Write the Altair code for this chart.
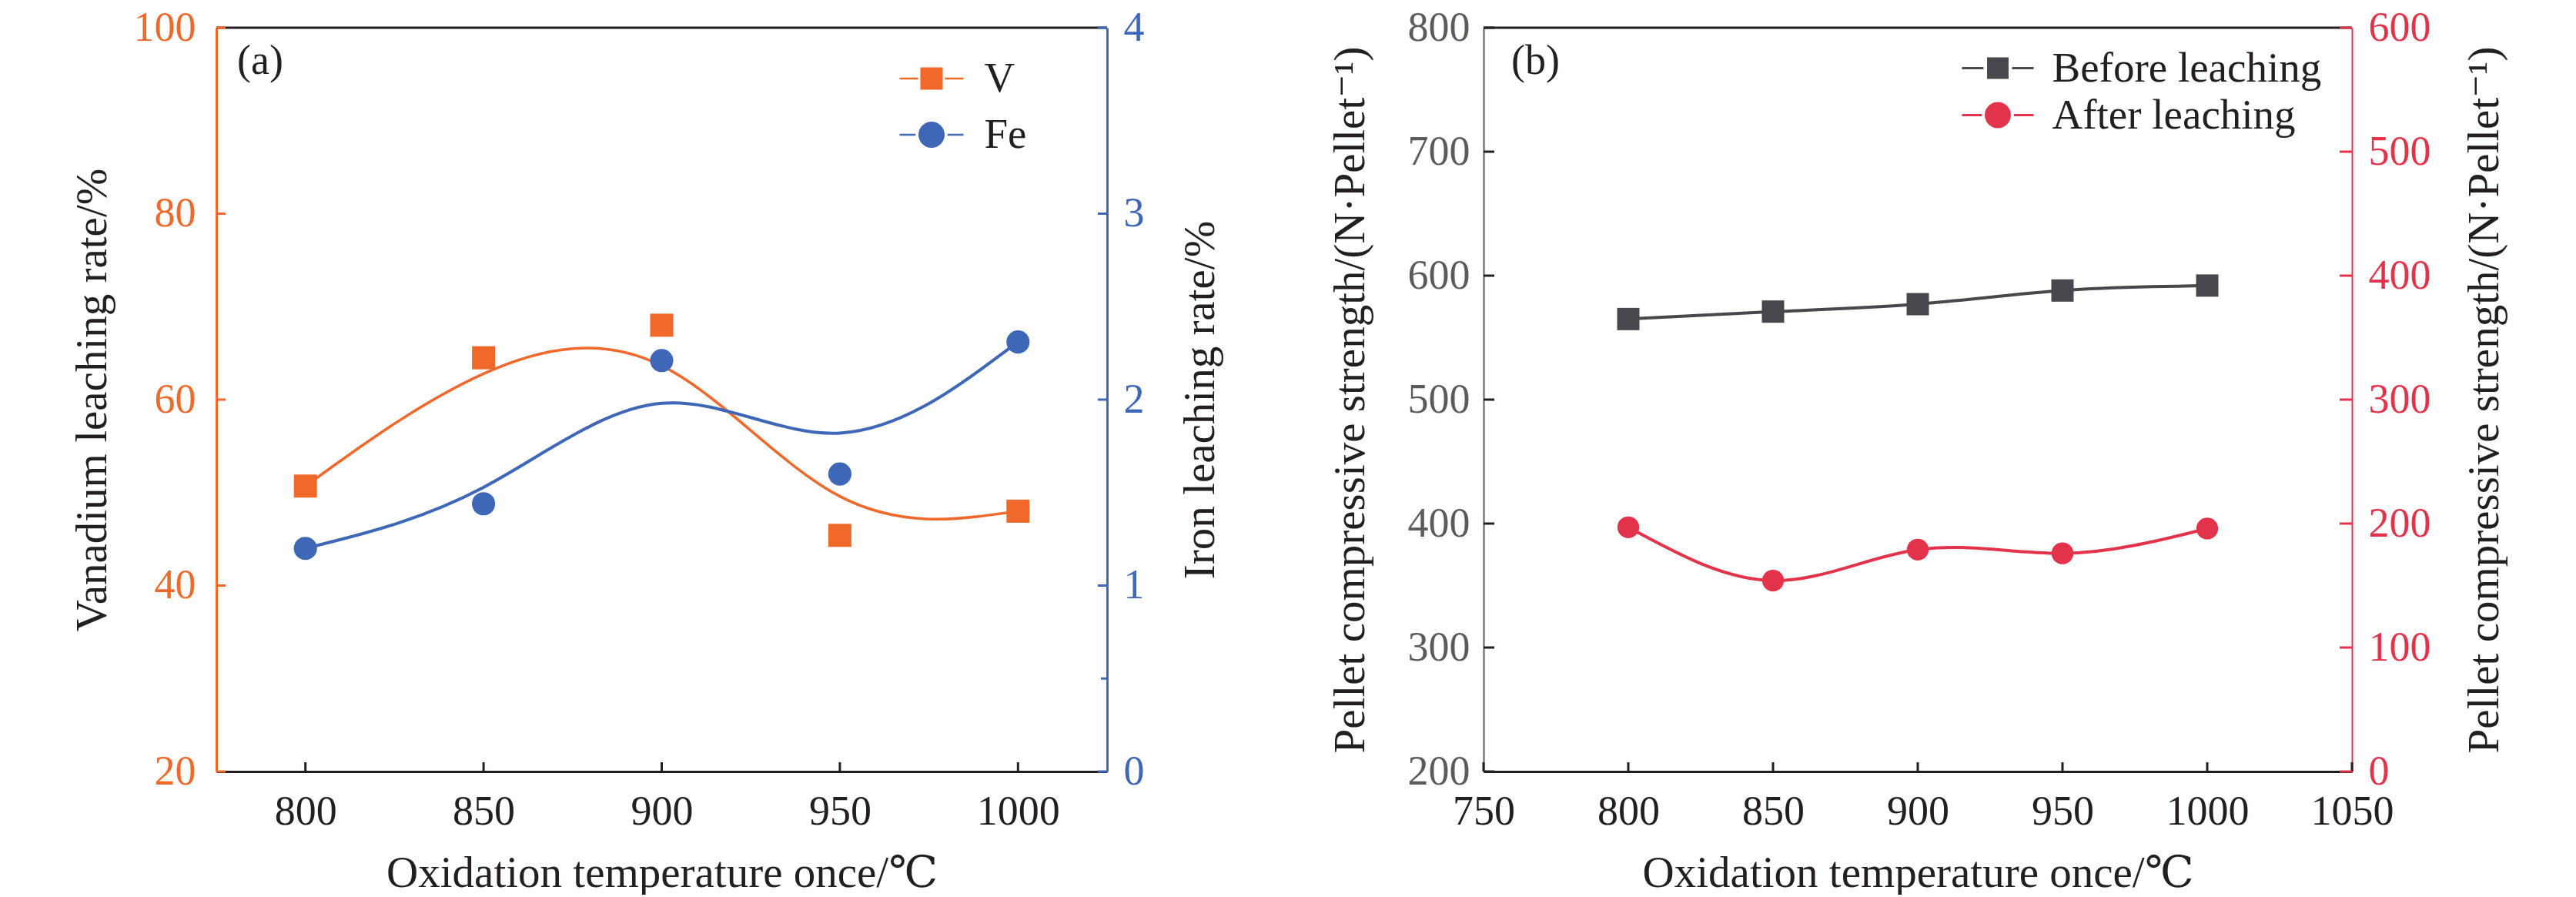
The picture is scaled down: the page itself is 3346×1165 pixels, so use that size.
import altair as alt
import pandas as pd

# ---------------- data ----------------
temps = [800, 850, 900, 950, 1000]
v_rate = [50.7, 64.5, 68.0, 45.4, 48.0]          # Vanadium leaching rate / %
fe_rate = [1.20, 1.44, 2.21, 1.60, 2.31]         # Iron leaching rate / %
before = [565, 571, 577, 588, 592]               # compressive strength before leaching
after = [197, 154, 179, 176, 196]                # compressive strength after leaching

xa_ticks = [800, 850, 900, 950, 1000]
xb_ticks = [750, 800, 850, 900, 950, 1000, 1050]
v_ticks = [20, 40, 60, 80, 100]
fe_ticks = [0, 1, 2, 3, 4]
fe_minor = [0.5]
before_ticks = [200, 300, 400, 500, 600, 700, 800]
after_ticks = [0, 100, 200, 300, 400, 500, 600]

series_a = ["V", "Fe"]
series_b = ["Before leaching", "After leaching"]

# ---------------- style ----------------
FONT = "Liberation Serif, DejaVu Serif"
ORANGE = "#F0692A"
BLUE = "#3F67B7"
RED = "#E3334A"
GRAY = "#47484D"
AXGRAY = "#5A5B5F"
TEXT = "#231F20"

WA, HA = 1157, 966
WB, HB = 1128, 966
TICK_FS = 54
TITLE_FS = 57

dfa = pd.DataFrame({"T": temps, "V": v_rate, "Fe": fe_rate})
dfb = pd.DataFrame({"T": temps, "before": before, "after": after})


def rule_df(vals):
    return pd.DataFrame({"t": vals})


one = pd.DataFrame({"k": [0]})


def legend_entry(name, color, path, size, lx, ly, offset):
    params = dict(orient="none", legendX=lx, legendY=ly, title=None, labelFont=FONT,
                  labelFontSize=55, labelColor=TEXT, symbolSize=size, symbolStrokeWidth=0,
                  labelOffset=offset, padding=0, symbolOpacity=1, labelLimit=800)
    return alt.Chart(pd.DataFrame({"s": [name]})).mark_point(filled=True, opacity=1).encode(
        x=alt.value(0), y=alt.value(0),
        color=alt.Color("s:N", scale=alt.Scale(domain=[name], range=[color]),
                        legend=alt.Legend(**params)),
        shape=alt.Shape("s:N", scale=alt.Scale(domain=[name], range=[path]),
                        legend=alt.Legend(**params)),
    ).transform_filter("false")


# ================= panel (a) =================
xa = alt.Scale(domain=[775, 1025], nice=False, zero=False)
va = alt.Scale(domain=[20, 100], nice=False, zero=False)
fa = alt.Scale(domain=[0, 4], nice=False, zero=False)

x_axis_a = alt.Axis(values=xa_ticks, title="Oxidation temperature once/℃", ticks=False, tickSize=0,
                    domainColor=TEXT, domainWidth=3, labelColor=TEXT, labelFontSize=TICK_FS,
                    labelPadding=25, titleFontSize=TITLE_FS, titlePadding=25, titleColor=TEXT,
                    labelFlush=False, format="d")

v_line = alt.Chart(dfa).mark_line(interpolate="basis", color=ORANGE, strokeWidth=3.5).encode(
    x=alt.X("T:Q", scale=xa, axis=x_axis_a),
    y=alt.Y("V:Q", scale=va, axis=alt.Axis(
        orient="left", values=v_ticks, title="Vanadium leaching rate/%", ticks=False, tickSize=0,
        domainColor=ORANGE, domainWidth=3, labelColor=ORANGE, labelFontSize=TICK_FS,
        labelPadding=27, titleFontSize=TITLE_FS, titlePadding=24, titleColor=TEXT,
        labelFlush=False, format="d")),
)
v_pts = alt.Chart(dfa).mark_point(shape="square", size=900, filled=True, color=ORANGE, opacity=1).encode(
    x=alt.X("T:Q", scale=xa, axis=None),
    y=alt.Y("V:Q", scale=va, axis=None),
)
fe_line = alt.Chart(dfa).mark_line(interpolate="basis", color=BLUE, strokeWidth=4).encode(
    x=alt.X("T:Q", scale=xa, axis=None),
    y=alt.Y("Fe:Q", scale=fa, axis=alt.Axis(
        orient="right", values=fe_ticks, title="Iron leaching rate/%", ticks=False, tickSize=0,
        domainColor=BLUE, domainWidth=3, labelColor=BLUE, labelFontSize=TICK_FS,
        labelPadding=21, titleFontSize=TITLE_FS, titlePadding=45, titleColor=TEXT,
        titleAngle=270, titleBaseline="top", labelFlush=False, format="d")),
)
fe_pts = alt.Chart(dfa).mark_point(shape="circle", size=908, filled=True, color=BLUE, opacity=1).encode(
    x=alt.X("T:Q", scale=xa, axis=None),
    y=alt.Y("Fe:Q", scale=fa, axis=None),
)

top_a = alt.Chart(one).mark_rule(color=TEXT, strokeWidth=3).encode(
    x=alt.value(0), x2=alt.value(WA), y=alt.value(0))

xt_a = alt.Chart(rule_df(xa_ticks)).mark_rule(color=TEXT, strokeWidth=3).encode(
    x=alt.X("t:Q", scale=xa, axis=None), y=alt.value(HA), y2=alt.value(HA - 12))
vt_a = alt.Chart(rule_df(v_ticks)).mark_rule(color=ORANGE, strokeWidth=3).encode(
    y=alt.Y("t:Q", scale=va, axis=None), x=alt.value(0), x2=alt.value(12))
ft_a = alt.Chart(rule_df(fe_ticks)).mark_rule(color=BLUE, strokeWidth=3).encode(
    y=alt.Y("t:Q", scale=fa, axis=None), x=alt.value(WA), x2=alt.value(WA - 12))
fm_a = alt.Chart(rule_df(fe_minor)).mark_rule(color=BLUE, strokeWidth=3).encode(
    y=alt.Y("t:Q", scale=fa, axis=None), x=alt.value(WA), x2=alt.value(WA - 8))

path_v = "M-1,-0.03H-0.42V0.03H-1Z M-0.35,-0.35H0.35V0.35H-0.35Z M0.42,-0.03H1V0.03H0.42Z"
path_fe = ("M-1,-0.03H-0.5V0.03H-1Z M-0.41,0A0.41,0.41,0,1,0,0.41,0A0.41,0.41,0,1,0,-0.41,0Z "
           "M0.5,-0.03H1V0.03H0.5Z")
leg_a1 = legend_entry(series_a[0], ORANGE, path_v, 6889, 887.5, 24.5, 27)
leg_a2 = legend_entry(series_a[1], BLUE, path_fe, 6889, 887.5, 97.5, 27)

panel_a = alt.layer(top_a, v_line, v_pts, fe_line, fe_pts, xt_a, vt_a, ft_a, fm_a, leg_a1, leg_a2).resolve_scale(
    y="independent", color="independent", shape="independent"
).resolve_axis(x="independent").properties(
    width=WA, height=HA,
    title=alt.TitleParams("(a)", anchor="start", frame="group", font=FONT, fontSize=54,
                          fontWeight="normal", color=TEXT, dx=27, dy=125, offset=0, baseline="middle"),
)

# ================= panel (b) =================
xb = alt.Scale(domain=[750, 1050], nice=False, zero=False)
bs = alt.Scale(domain=[200, 800], nice=False, zero=False)
as_ = alt.Scale(domain=[0, 600], nice=False, zero=False)

x_axis_b = alt.Axis(values=xb_ticks, title="Oxidation temperature once/℃", ticks=False, tickSize=0,
                    domainColor=TEXT, domainWidth=3, labelColor=TEXT, labelFontSize=TICK_FS,
                    labelPadding=25, titleFontSize=TITLE_FS, titlePadding=25, titleColor=TEXT,
                    labelFlush=False, format="d")

b_line = alt.Chart(dfb).mark_line(interpolate="natural", color=GRAY, strokeWidth=4).encode(
    x=alt.X("T:Q", scale=xb, axis=x_axis_b),
    y=alt.Y("before:Q", scale=bs, axis=alt.Axis(
        orient="left", values=before_ticks, title="Pellet compressive strength/(N·Pellet⁻¹)",
        ticks=False, tickSize=0, domainColor=AXGRAY, domainWidth=2, labelColor=AXGRAY,
        labelFontSize=TICK_FS, labelPadding=18, titleFontSize=TITLE_FS, titlePadding=45,
        titleColor=TEXT, labelFlush=False, format="d")),
)
b_pts = alt.Chart(dfb).mark_point(shape="square", size=841, filled=True, color=GRAY, opacity=1).encode(
    x=alt.X("T:Q", scale=xb, axis=None),
    y=alt.Y("before:Q", scale=bs, axis=None),
)
a_line = alt.Chart(dfb).mark_line(interpolate="natural", color=RED, strokeWidth=4).encode(
    x=alt.X("T:Q", scale=xb, axis=None),
    y=alt.Y("after:Q", scale=as_, axis=alt.Axis(
        orient="right", values=after_ticks, title="Pellet compressive strength/(N·Pellet⁻¹)",
        ticks=False, tickSize=0, domainColor=RED, domainWidth=2, labelColor=RED,
        labelFontSize=TICK_FS, labelPadding=21, titleFontSize=TITLE_FS, titlePadding=42,
        titleColor=TEXT, titleAngle=270, titleBaseline="top", labelFlush=False, format="d")),
)
a_pts = alt.Chart(dfb).mark_point(shape="circle", size=804, filled=True, color=RED, opacity=1).encode(
    x=alt.X("T:Q", scale=xb, axis=None),
    y=alt.Y("after:Q", scale=as_, axis=None),
)

top_b = alt.Chart(one).mark_rule(color=TEXT, strokeWidth=3).encode(
    x=alt.value(0), x2=alt.value(WB), y=alt.value(0))
xt_b = alt.Chart(rule_df(xb_ticks)).mark_rule(color=TEXT, strokeWidth=3).encode(
    x=alt.X("t:Q", scale=xb, axis=None), y=alt.value(HB), y2=alt.value(HB - 12))
bt_b = alt.Chart(rule_df(before_ticks)).mark_rule(color=TEXT, strokeWidth=3).encode(
    y=alt.Y("t:Q", scale=bs, axis=None), x=alt.value(0), x2=alt.value(14))
at_b = alt.Chart(rule_df(after_ticks)).mark_rule(color=RED, strokeWidth=3).encode(
    y=alt.Y("t:Q", scale=as_, axis=None), x=alt.value(WB), x2=alt.value(WB - 16))

path_before = "M-1,-0.032H-0.4V0.032H-1Z M-0.3,-0.3H0.3V0.3H-0.3Z M0.4,-0.032H1V0.032H0.4Z"
path_after = ("M-1,-0.032H-0.45V0.032H-1Z M-0.365,0A0.365,0.365,0,1,0,0.365,0A0.365,0.365,0,1,0,-0.365,0Z "
              "M0.45,-0.032H1V0.032H0.45Z")
leg_b1 = legend_entry(series_b[0], GRAY, path_before, 8649, 621.5, 6, 24)
leg_b2 = legend_entry(series_b[1], RED, path_after, 8649, 621.5, 67, 24)

panel_b = alt.layer(top_b, b_line, b_pts, a_line, a_pts, xt_b, bt_b, at_b, leg_b1, leg_b2).resolve_scale(
    y="independent", color="independent", shape="independent"
).resolve_axis(x="independent").properties(
    width=WB, height=HB,
    title=alt.TitleParams("(b)", anchor="start", frame="group", font=FONT, fontSize=54,
                          fontWeight="normal", color=TEXT, dx=36, dy=125, offset=0, baseline="middle"),
)

chart = alt.hconcat(panel_a, panel_b, spacing=138).resolve_scale(
    color="independent", shape="independent"
).resolve_legend(color="independent", shape="independent").properties(
    padding={"left": 83, "top": 1, "right": 10, "bottom": 0}
).configure(font=FONT).configure_view(stroke=None).configure_axis(
    grid=False, labelFont=FONT, titleFont=FONT, titleFontWeight="normal"
)

chart.save("out.html", embed_options={"renderer": "svg", "actions": False})
